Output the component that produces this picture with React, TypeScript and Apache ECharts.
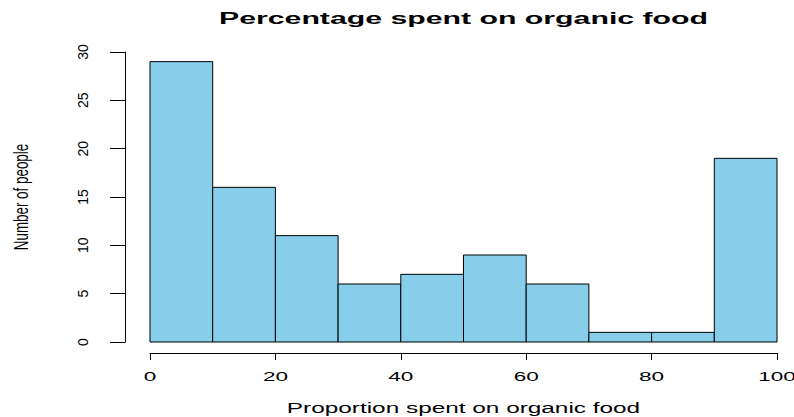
import React, { useEffect, useRef } from "react";
import * as echarts from "echarts";

const binStarts = [0, 10, 20, 30, 40, 50, 60, 70, 80, 90];
const binWidth = 10;
const counts = [29, 16, 11, 6, 7, 9, 6, 1, 1, 19];
const xTicks = [0, 20, 40, 60, 80, 100];
const yTicks = [0, 5, 10, 15, 20, 25, 30];
const titleText = "Percentage spent on organic food";
const xName = "Proportion spent on organic food";
const yName = "Number of people";

export default function App() {
  const ref = useRef<HTMLDivElement>(null);
  useEffect(() => {
    const chart = echarts.init(ref.current!, null, { renderer: "svg" });
    const data = binStarts.map((s, i) => [s, s + binWidth, counts[i]]);
    chart.setOption({
      animation: false,
      backgroundColor: "#ffffff",
      grid: { left: 150, right: 17, top: 52, bottom: 75 },
      xAxis: {
        type: "value",
        min: xTicks[0],
        max: xTicks[xTicks.length - 1],
        interval: 20,
        offset: 11,
        splitLine: { show: false },
        axisLine: { show: true, onZero: false, lineStyle: { color: "#000", width: 1 } },
        axisTick: { show: true, length: 7, lineStyle: { color: "#000" } },
        axisLabel: { show: false },
      },
      yAxis: {
        type: "value",
        min: yTicks[0],
        max: yTicks[yTicks.length - 1],
        interval: 5,
        offset: 25,
        splitLine: { show: false },
        axisLine: { show: true, onZero: false, lineStyle: { color: "#000", width: 1 } },
        axisTick: { show: true, length: 15, lineStyle: { color: "#000" } },
        axisLabel: {
          rotate: 90,
          margin: 35,
          fontFamily: "Liberation Sans",
          fontSize: 14,
          color: "#000",
          align: "center",
        },
      },
      series: [
        {
          type: "custom",
          data,
          encode: { x: [0, 1], y: 2 },
          renderItem: (params: any, api: any) => {
            const p0 = api.coord([api.value(0), 0]);
            const p1 = api.coord([api.value(1), api.value(2)]);
            return {
              type: "rect",
              shape: { x: p0[0], y: p1[1], width: p1[0] - p0[0], height: p0[1] - p1[1] },
              style: { fill: "#87CEEB", stroke: "#000", lineWidth: 1 },
            };
          },
        },
      ],
    });

    const cx = chart.convertToPixel({ xAxisIndex: 0 }, 50) as number;
    const cy = chart.convertToPixel({ yAxisIndex: 0 }, 15) as number;
    const graphics: any[] = [
      {
        type: "text",
        x: cx,
        y: 18,
        scaleX: 1.78,
        style: {
          text: titleText,
          fontFamily: "Liberation Sans",
          fontWeight: "bold",
          fontSize: 17,
          fill: "#000",
          align: "center",
          verticalAlign: "middle",
        },
      },
      {
        type: "text",
        x: cx,
        y: 408,
        scaleX: 1.74,
        style: {
          text: xName,
          fontFamily: "Liberation Sans",
          fontSize: 14,
          fill: "#000",
          align: "center",
          verticalAlign: "middle",
        },
      },
      {
        type: "text",
        x: 22,
        y: cy,
        rotation: Math.PI / 2,
        scaleY: 1.45,
        style: {
          text: yName,
          fontFamily: "Liberation Sans",
          fontSize: 13.4,
          fill: "#000",
          align: "center",
          verticalAlign: "middle",
        },
      },
    ];
    xTicks.forEach((v) => {
      const px = chart.convertToPixel({ xAxisIndex: 0 }, v) as number;
      graphics.push({
        type: "text",
        x: px,
        y: 377,
        scaleX: 1.88,
        style: {
          text: String(v),
          fontFamily: "Liberation Sans",
          fontSize: 12,
          fill: "#000",
          align: "center",
          verticalAlign: "middle",
        },
      });
    });
    chart.setOption({ graphic: graphics });
    return () => chart.dispose();
  }, []);
  return (
    <div
      ref={ref}
      style={{ position: "fixed", left: 0, top: 0, width: 794, height: 417 }}
    />
  );
}
